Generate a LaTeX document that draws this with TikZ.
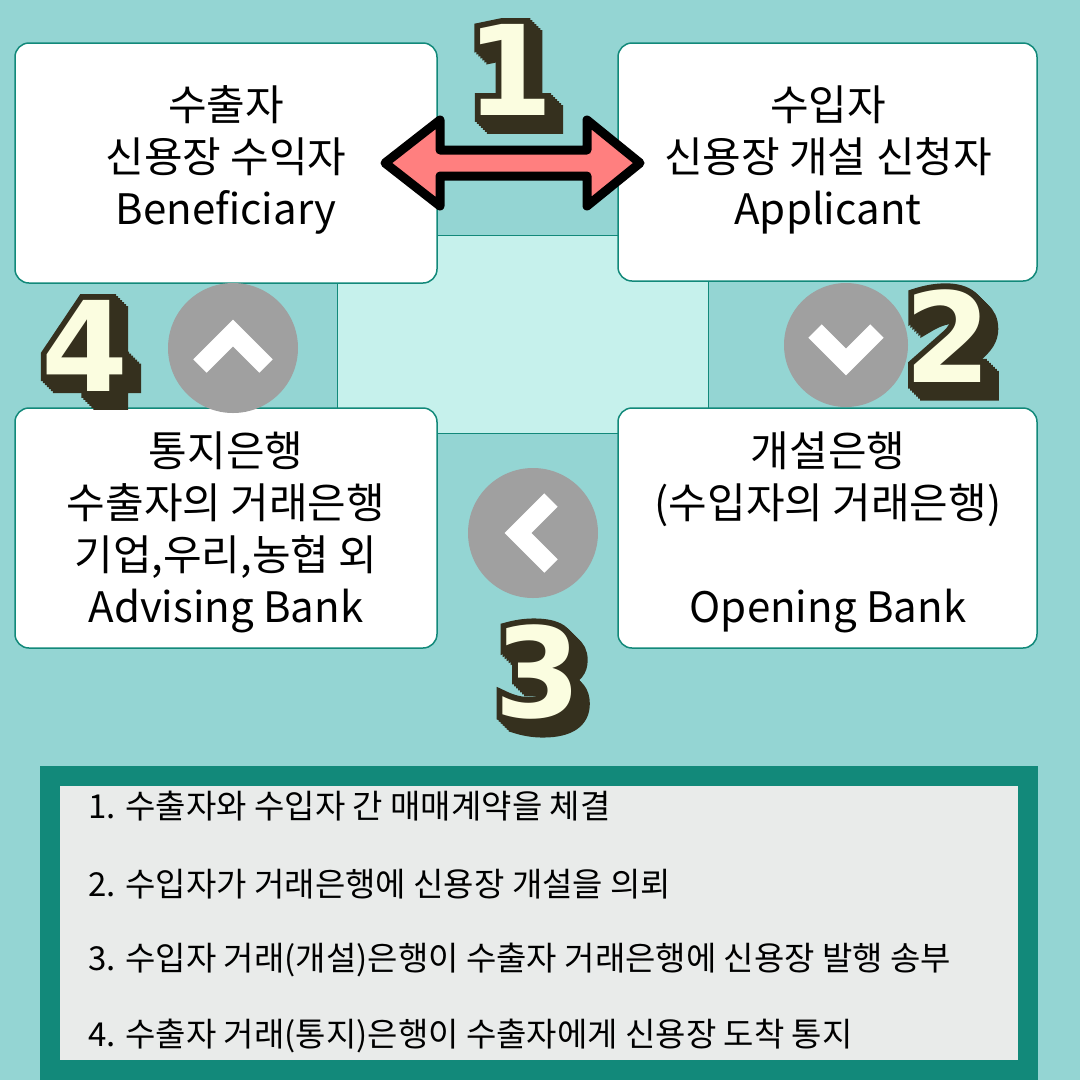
\documentclass[tikz,border=0pt]{standalone}
\usepackage{fontspec}
\setmainfont{Noto Sans CJK KR}
\newfontfamily\numfont[FakeBold=10]{DejaVu Sans}
\newfontfamily\numfontb{DejaVu Sans}
\definecolor{bg}{HTML}{94D5D3}
\definecolor{mid}{HTML}{C6F1EC}
\definecolor{edge}{HTML}{12897A}
\definecolor{panel}{HTML}{E9EBEA}
\definecolor{cream}{HTML}{FBFDE0}
\definecolor{shade}{HTML}{35301E}
\definecolor{arr}{HTML}{FF7F7F}
\definecolor{circ}{HTML}{A0A0A0}
\begin{document}
\begin{tikzpicture}[x=1pt,y=-1pt,
  card/.style={draw=edge,line width=1.5pt,fill=white,rounded corners=14pt},
  cardtext/.style={align=center,font=\fontsize{42}{52}\selectfont,inner sep=0pt},
  chev/.style={white,line width=19pt,miter limit=10},
  disc/.style={circle,fill=circ,minimum size=130pt,inner sep=0pt}]
\path[use as bounding box,fill=bg] (0,0) rectangle (1080,1080);
\draw[edge,fill=mid,line width=1pt] (337,235) rectangle (708,433);
\draw[card] (15,43) rectangle (437,283);
\draw[card] (618,43) rectangle (1037,281);
\draw[card] (15,408) rectangle (437,648);
\draw[card] (618,408) rectangle (1037,648);
\node[cardtext] (tl) at (226,160) {수출자\\신용장 수익자\\Beneficiary};
\node[cardtext] (tr) at (828,160) {수입자\\신용장 개설 신청자\\Applicant};
\node[cardtext] (bl) at (226,532) {통지은행\\수출자의 거래은행\\기업,우리,농협 외\\Advising Bank};
\node[cardtext] (br) at (828,532) {개설은행\\(수입자의 거래은행)\\[52pt]Opening Bank};
% double arrow
\draw[fill=arr,line width=9pt,line join=round] (385,163) -- (440,120) -- (440,150) -- (587,150) -- (587,120) -- (640,163) -- (587,206) -- (587,176) -- (440,176) -- (440,206) -- cycle;
% circles
\node[disc] (c4) at (233,348) {};
\draw[chev] ([shift={(-33,18)}]c4.center) -- ([shift={(0,-15)}]c4.center) -- ([shift={(33,18)}]c4.center);
\node[disc,minimum size=124pt] (c2) at (846,345) {};
\draw[chev] ([shift={(-31,-14)}]c2.center) -- ([shift={(0,17)}]c2.center) -- ([shift={(31,-14)}]c2.center);
\node[disc] (c3) at (533,533) {};
\draw[chev] ([shift={(18,-33)}]c3.center) -- ([shift={(-15,0)}]c3.center) -- ([shift={(18,33)}]c3.center);
% numbers
\foreach \t/\x/\y/\n in {1/510/70/n1,2/948/336/n2,3/538/672/n3,4/85/346/n4}{
  \foreach \d in {0,2,...,12}{\node[text=shade,font=\numfont\bfseries\fontsize{125}{125}\selectfont,inner sep=0pt] at (\x+\d,\y+\d) {\t};}
  \node[text=cream,font=\numfontb\bfseries\fontsize{125}{125}\selectfont,inner sep=0pt] (\n) at (\x,\y) {\t};
}
% bottom panel
\fill[edge] (40,766) rectangle (1038,1080);
\fill[panel] (60,786) rectangle (1018,1060);
\foreach \i/\y/\s in {1/806/{1. 수출자와 수입자 간 매매계약을 체결},2/884/{2. 수입자가 거래은행에 신용장 개설을 의뢰},3/960/{3. 수입자 거래(개설)은행이 수출자 거래은행에 신용장 발행 송부},4/1036/{4. 수출자 거래(통지)은행이 수출자에게 신용장 도착 통지}}
  \node[anchor=west,inner sep=0pt,font=\fontsize{33}{36}\selectfont] (l\i) at (88,\y) {\s};
\end{tikzpicture}
\end{document}
